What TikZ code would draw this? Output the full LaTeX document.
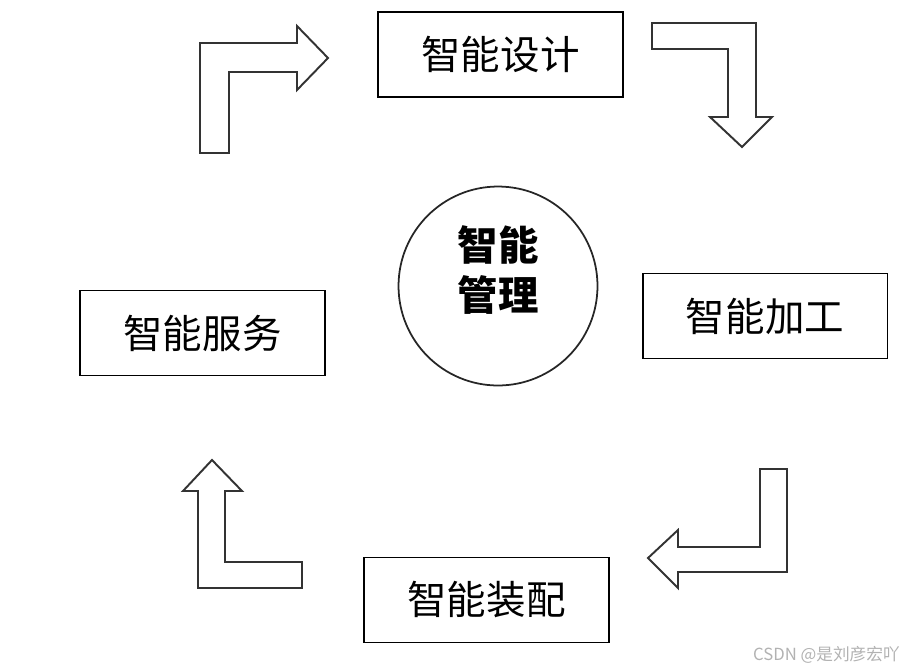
\documentclass[tikz,border=0pt]{standalone}
\usepackage{fontspec}
\setmainfont{Noto Sans CJK SC}
\usetikzlibrary{positioning}

\begin{document}
\begin{tikzpicture}[
    x=0.02cm, y=-0.02cm,
    stage/.style={draw=black, line width=1.1pt, minimum width=4.9cm, minimum height=1.7cm,
      inner sep=0pt, font=\fontsize{22.5}{27}\selectfont},
    hub/.style={circle, draw=black!85, line width=1pt, minimum size=3.98cm, inner sep=0pt},
    hubtext/.style={align=center, inner sep=0pt, font=\fontsize{23}{29}\selectfont\bfseries},
    bentarrow/.style={draw=black!80, line width=1.1pt, fill=white, line join=miter},
    credittext/.style={font=\fontsize{9.5}{11}\selectfont, text=black!30, anchor=east},
  ]

  \useasboundingbox (0,0) rectangle (915,670);

  % ---------- centre
  \node[hub] (manage) at (498,286) {};
  \node[hubtext] (managetext) at (498,270) {智能\\管理};

  % ---------- the four stages
  \node[stage] (design)    at (500.5,54.5) {智能设计};
  \node[stage] (machining) at (765,316)    {智能加工};
  \node[stage] (assembly)  at (486.5,600)  {智能装配};
  \node[stage] (service)   at (202.5,333)  {智能服务};

  % ---------- bent arrows, clockwise
  % service -> design
  \draw[bentarrow] (200,153) -- (200,43) -- (297,43) -- (297,26) -- (328,58)
    -- (297,90) -- (297,72) -- (229,72) -- (229,153) -- cycle;
  % design -> machining
  \draw[bentarrow] (652,23) -- (756,23) -- (756,117) -- (772,117) -- (742,147)
    -- (710,117) -- (728,117) -- (728,49) -- (652,49) -- cycle;
  % machining -> assembly
  \draw[bentarrow] (760,469) -- (787,469) -- (787,572) -- (678,572) -- (678,588)
    -- (648,558) -- (678,530) -- (678,547) -- (760,547) -- cycle;
  % assembly -> service
  \draw[bentarrow] (212,460) -- (242,491) -- (225,491) -- (225,562) -- (302,562)
    -- (302,588) -- (198,588) -- (198,491) -- (183,491) -- cycle;

  \node[credittext] (credit) at (906,655) {CSDN @是刘彦宏吖};

\end{tikzpicture}
\end{document}
